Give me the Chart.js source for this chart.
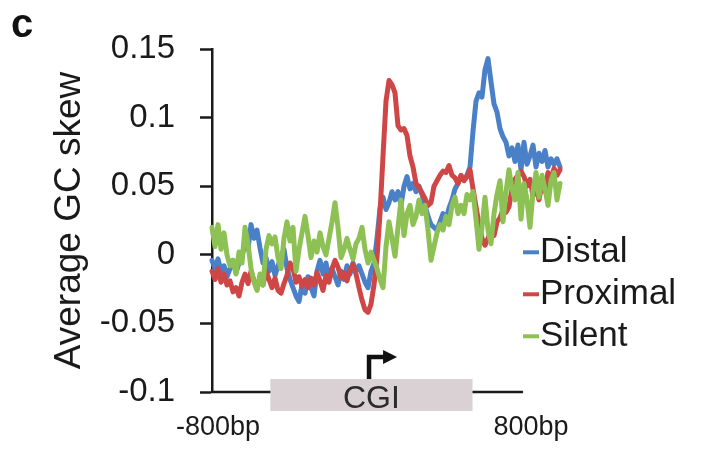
<!DOCTYPE html>
<html><head><meta charset="utf-8">
<script src="https://cdn.jsdelivr.net/npm/chart.js@4.4.1/dist/chart.umd.min.js"></script>
<style>html,body{margin:0;padding:0;background:#fff;}canvas{display:block;}</style>
</head><body>
<canvas id="c" width="702" height="455"></canvas>
<script>
const seriesNames = ['Distal', 'Proximal', 'Silent'];
const seriesColors = ['#4a80c8', '#cf4646', '#8ec153'];

const distal = [
 -0.004,-0.010,-0.003,-0.012,-0.008,-0.016,-0.010,-0.004,-0.013,-0.006,
 -0.002,0.010,0.004,0.022,0.012,0.018,0.005,-0.006,-0.002,-0.012,
 -0.005,-0.015,-0.008,-0.002,0.004,-0.010,-0.018,-0.024,-0.030,-0.034,
 -0.022,-0.028,-0.016,-0.024,-0.030,-0.012,-0.004,-0.014,-0.006,-0.018,
 -0.010,-0.016,-0.022,-0.012,-0.018,-0.008,-0.014,-0.006,-0.012,-0.008,
 -0.014,-0.020,-0.024,-0.012,-0.006,0.012,0.034,0.042,0.033,0.038,
 0.046,0.040,0.046,0.036,0.050,0.057,0.048,0.052,0.046,0.050,
 0.044,0.036,0.028,0.022,0.020,0.018,0.024,0.030,0.026,0.034,
 0.040,0.048,0.052,0.057,0.055,0.058,0.064,0.090,0.112,0.118,
 0.115,0.135,0.143,0.126,0.110,0.104,0.092,0.086,0.082,0.072,
 0.078,0.068,0.080,0.062,0.082,0.066,0.072,0.080,0.064,0.074,
 0.068,0.076,0.064,0.070,0.066,0.070,0.064
];
const proximal = [
 -0.012,-0.018,-0.010,-0.020,-0.014,-0.022,-0.019,-0.027,-0.024,-0.030,
 -0.020,-0.014,-0.021,-0.012,-0.019,-0.025,-0.016,-0.022,-0.012,-0.018,
 -0.024,-0.017,-0.026,-0.028,-0.021,-0.015,-0.006,-0.010,-0.020,-0.016,
 -0.023,-0.018,-0.024,-0.017,-0.022,-0.013,-0.019,-0.026,-0.015,-0.020,
 -0.010,-0.004,-0.009,-0.017,-0.013,-0.019,-0.011,-0.007,-0.014,-0.024,
 -0.033,-0.040,-0.042,-0.036,-0.022,-0.002,0.030,0.072,0.112,0.127,
 0.124,0.118,0.094,0.091,0.092,0.087,0.072,0.064,0.052,0.049,
 0.045,0.041,0.036,0.038,0.050,0.054,0.058,0.061,0.060,0.065,
 0.058,0.056,0.052,0.058,0.054,0.057,0.062,0.048,0.035,0.022,
 0.012,0.007,0.012,0.017,0.014,0.024,0.027,0.033,0.031,0.035,
 0.048,0.055,0.058,0.061,0.057,0.050,0.055,0.043,0.050,0.040,
 0.052,0.046,0.060,0.055,0.063,0.058,0.062
];
const silent = [
 0.020,0.006,0.022,0.004,0.016,0.000,-0.008,-0.004,-0.014,0.002,
 -0.006,0.020,0.008,-0.010,-0.020,-0.026,-0.014,-0.022,0.004,0.014,
 0.008,0.013,-0.002,-0.010,0.012,0.024,0.010,0.020,-0.012,0.004,
 0.016,0.028,0.014,-0.002,0.010,0.002,0.016,0.006,0.000,0.012,
 0.024,0.038,0.020,-0.002,0.004,0.012,0.004,-0.003,0.008,0.012,
 0.020,0.004,-0.006,0.002,-0.004,-0.010,-0.018,-0.024,0.006,0.024,
 0.012,-0.001,0.020,0.040,0.014,0.030,0.036,0.022,0.028,0.040,
 0.030,0.036,0.018,-0.004,0.006,0.016,0.022,0.018,0.028,0.022,
 0.036,0.042,0.030,0.036,0.030,0.044,0.040,0.046,0.026,0.004,
 0.020,0.042,0.018,0.008,0.030,0.044,0.054,0.024,0.046,0.062,
 0.048,0.040,0.060,0.026,0.052,0.040,0.020,0.046,0.060,0.042,
 0.058,0.048,0.036,0.054,0.060,0.040,0.052
];
const yTickLabels = ['-0.1', '-0.05', '0', '0.05', '0.1', '0.15'];
const xTickLabels = ['-800bp', '800bp'];
const axisStartBp = -800, axisEndBp = 800;
const cgiStartBp = -500, cgiEndBp = 540, tssBp = 0;
const binBp = 15.43;
const positionsBp = distal.map((_, i) => axisStartBp + i * binBp);

const FONT = '"Liberation Sans", Arial, Helvetica, sans-serif';

function pts(arr) { return arr.map((v, i) => ({x: positionsBp[i], y: v})); }

const decor = {
  id: 'decor',
  afterDraw(chart) {
    const {ctx, chartArea: a, scales: {x, y}} = chart;
    ctx.save();
    const axisY = y.getPixelForValue(-0.1);
    ctx.strokeStyle = '#1a1a1a'; ctx.lineWidth = 2.5;
    ctx.beginPath(); ctx.moveTo(a.left - 1, axisY); ctx.lineTo(x.getPixelForValue(axisEndBp), axisY); ctx.stroke();
    const bx0 = x.getPixelForValue(cgiStartBp), bx1 = x.getPixelForValue(cgiEndBp);
    ctx.fillStyle = '#d9d1d3';
    ctx.fillRect(bx0, axisY - 13, bx1 - bx0, 32);
    ctx.fillStyle = '#2b2b2b'; ctx.font = '32px ' + FONT;
    ctx.textAlign = 'center'; ctx.textBaseline = 'alphabetic';
    ctx.fillText('CGI', (bx0 + bx1) / 2, axisY + 16);
    const ax = x.getPixelForValue(tssBp) + 1.5;
    ctx.strokeStyle = '#111'; ctx.lineWidth = 4.5; ctx.lineCap = 'butt'; ctx.lineJoin = 'miter';
    ctx.beginPath(); ctx.moveTo(ax, axisY - 13); ctx.lineTo(ax, axisY - 35); ctx.lineTo(ax + 17, axisY - 35); ctx.stroke();
    ctx.fillStyle = '#111';
    ctx.beginPath(); ctx.moveTo(ax + 14, axisY - 42); ctx.lineTo(ax + 28, axisY - 35); ctx.lineTo(ax + 14, axisY - 28); ctx.closePath(); ctx.fill();
    ctx.fillStyle = '#1a1a1a'; ctx.font = '27px ' + FONT; ctx.textAlign = 'center';
    ctx.fillText(xTickLabels[0], x.getPixelForValue(axisStartBp) + 6, axisY + 43);
    ctx.fillText(xTickLabels[1], x.getPixelForValue(axisEndBp) + 8, axisY + 43);
    const base0 = y.getPixelForValue(0) + 7;
    ctx.font = '35px ' + FONT; ctx.textAlign = 'left';
    seriesNames.forEach((n, k) => {
      const by = base0 + k * 42;
      ctx.strokeStyle = seriesColors[k]; ctx.lineWidth = 4;
      ctx.beginPath(); ctx.moveTo(a.right - 37, by - 9.5); ctx.lineTo(a.right - 21, by - 9.5); ctx.stroke();
      ctx.fillStyle = '#1a1a1a';
      ctx.fillText(n, a.right - 20, by);
    });
    ctx.font = 'bold 40px ' + FONT; ctx.fillStyle = '#111';
    ctx.fillText('c', 11, 37);
    ctx.restore();
  }
};

new Chart(document.getElementById('c'), {
  type: 'line',
  data: {
    datasets: [
      {label: seriesNames[0], data: pts(distal), borderColor: seriesColors[0], borderWidth: 5, order: 3},
      {label: seriesNames[1], data: pts(proximal), borderColor: seriesColors[1], borderWidth: 5, order: 2},
      {label: seriesNames[2], data: pts(silent), borderColor: seriesColors[2], borderWidth: 5, order: 1}
    ]
  },
  options: {
    responsive: false,
    animation: false,
    devicePixelRatio: 1,
    layout: {padding: {left: 0, right: 142, top: 49, bottom: 63}},
    elements: {
      line: {borderWidth: 5, tension: 0, fill: false, borderJoinStyle: 'round', borderCapStyle: 'round'},
      point: {radius: 0, hoverRadius: 0}
    },
    datasets: {line: {clip: false}},
    plugins: {legend: {display: false}, tooltip: {enabled: false}},
    scales: {
      x: {type: 'linear', display: false, bounds: 'data', min: axisStartBp},
      y: {
        type: 'linear', min: -0.1, max: 0.15,
        afterFit(scale) { scale.width = 212; },
        afterBuildTicks(scale) { scale.ticks = yTickLabels.map(t => ({value: parseFloat(t)})); },
        ticks: {
          callback: (v, i) => yTickLabels[i],
          font: {family: FONT, size: 33}, color: '#1a1a1a', padding: 25
        },
        grid: {drawOnChartArea: false, tickLength: 12, tickColor: '#1a1a1a', tickWidth: 2.5},
        border: {display: true, color: '#1a1a1a', width: 2.5},
        title: {display: true, text: 'Average GC skew', font: {family: FONT, size: 37}, color: '#1a1a1a', padding: {top: 48, bottom: 0}}
      }
    }
  },
  plugins: [decor]
});
</script>
</body></html>
